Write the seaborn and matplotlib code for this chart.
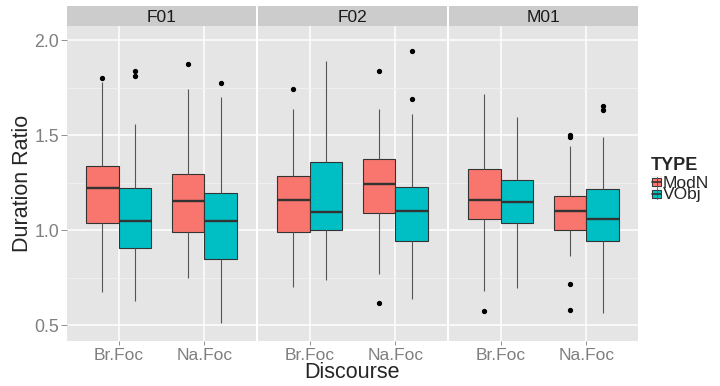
import matplotlib
matplotlib.use("Agg")
import matplotlib.pyplot as plt
import numpy as np
import pandas as pd
import seaborn as sns
from matplotlib.patches import Rectangle
from matplotlib.lines import Line2D

speakers = ["F01", "F02", "M01"]
discourse = ["Br.Foc", "Na.Foc"]
types = ["ModN", "VObj"]
palette = {"ModN": "#F8766D", "VObj": "#00BFC4"}

# box stats, order: speaker > discourse > type
whisker_low = [0.674, 0.628, 0.747, 0.514, 0.700, 0.738, 0.770, 0.640, 0.680, 0.698, 0.866, 0.563]
q1 = [1.037, 0.907, 0.989, 0.851, 0.989, 1.000, 1.093, 0.942, 1.058, 1.036, 1.002, 0.942]
median = [1.221, 1.049, 1.154, 1.047, 1.158, 1.098, 1.242, 1.102, 1.158, 1.151, 1.103, 1.061]
q3 = [1.338, 1.224, 1.295, 1.196, 1.286, 1.361, 1.375, 1.230, 1.324, 1.262, 1.182, 1.215]
whisker_high = [1.780, 1.558, 1.742, 1.703, 1.637, 1.893, 1.637, 1.612, 1.715, 1.595, 1.445, 1.491]
outliers = [[1.800], [1.840, 1.812], [1.875], [1.775],
            [1.744], [], [1.838, 0.617], [1.944, 1.691],
            [0.575], [], [1.503, 1.489, 0.719, 0.582], [1.655, 1.635]]


def box_sample(lo, a, m, b, hi, extra):
    """Points giving the same quartiles / whisker ends as the drawn box."""
    return sorted(extra + [lo, hi] + [a] * 5 + [m] * 5 + [b] * 5)


rows = []
k = 0
for spk in speakers:
    for disc in discourse:
        for t in types:
            for v in box_sample(whisker_low[k], q1[k], median[k], q3[k],
                                whisker_high[k], outliers[k]):
                rows.append({"speaker": spk, "discourse": disc, "type": t, "ratio": v})
            k += 1
df = pd.DataFrame(rows)

sns.set_style("white")
plt.rcParams["font.family"] = ["Liberation Sans", "DejaVu Sans"]

W, H = 720, 386
fig = plt.figure(figsize=(W / 100, H / 100), dpi=100)

panel_left = [67, 258, 449]
panel_w = 189
top, bottom = 26, 340.7
grey_txt = "#7F7F7F"

for i, spk in enumerate(speakers):
    ax = fig.add_axes([panel_left[i] / W, 1 - bottom / H, panel_w / W, (bottom - top) / H])
    sub = df[df["speaker"] == spk]
    sns.boxplot(
        data=sub, x="discourse", y="ratio", hue="type",
        order=discourse, hue_order=types, palette=palette,
        saturation=1, width=0.75, gap=0, linecolor="#333333", linewidth=0.8,
        fliersize=3, showcaps=False, legend=False, ax=ax,
        medianprops=dict(linewidth=1.7, color="#333333"),
        whiskerprops=dict(color="#555555", linewidth=0.8),
        flierprops=dict(marker="o", markerfacecolor="black",
                        markeredgecolor="black", markersize=2.8),
    )
    ax.set_facecolor("#E5E5E5")
    ax.set_xlim(-0.6, 1.6)
    ax.set_ylim(0.419, 2.075)
    ax.set_yticks([0.5, 1.0, 1.5, 2.0])
    ax.set_yticks([0.75, 1.25, 1.75], minor=True)
    ax.grid(which="major", color="white", linewidth=1.1)
    ax.grid(which="minor", axis="y", color="#F2F2F2", linewidth=0.6)
    ax.set_axisbelow(True)
    for s in ax.spines.values():
        s.set_visible(False)
    ax.set_xlabel("")
    ax.set_ylabel("")
    ax.tick_params(axis="x", length=3, width=0.6, color=grey_txt, labelcolor=grey_txt,
                   labelsize=12.5, pad=2, bottom=True)
    ax.tick_params(axis="y", which="minor", left=False)
    if i == 0:
        ax.set_yticklabels(["0.5", "1.0", "1.5", "2.0"])
        ax.tick_params(axis="y", which="major", length=4, width=0.6, color=grey_txt,
                       labelcolor=grey_txt, labelsize=12.8, pad=1.5, left=True)
    else:
        ax.tick_params(axis="y", which="major", left=False, labelleft=False)

    strip = fig.add_axes([panel_left[i] / W, 1 - top / H, panel_w / W, 20 / H])
    strip.set_facecolor("#CCCCCC")
    strip.set_xticks([])
    strip.set_yticks([])
    for s in strip.spines.values():
        s.set_visible(False)
    strip.text(0.5, 0.45, spk, ha="center", va="center", fontsize=12.5,
               color="#1A1A1A", transform=strip.transAxes)

fig.text(23 / W, 1 - 183 / H, "Duration Ratio", rotation=90, ha="center",
         va="center", fontsize=15.5)
fig.text(352 / W, 1 - 372 / H, "Discourse", ha="center", va="center", fontsize=15.5)

# legend: keys drawn by hand, labels as one tight two-line text like ggplot's
fig.text(651 / W, 1 - 165 / H, "TYPE", ha="left", va="center", fontsize=13,
         fontweight="bold")
row_y = [182, 194]
for t, yc in zip(types, row_y):
    fig.add_artist(Rectangle((651 / W, 1 - (yc + 6) / H), 11 / W, 12 / H,
                             transform=fig.transFigure, facecolor="#F2F2F2",
                             edgecolor="none"))
    fig.add_artist(Line2D([656.5 / W, 656.5 / W], [1 - (yc + 5.5) / H, 1 - (yc - 5.5) / H],
                          transform=fig.transFigure, color="#555555", lw=0.7))
    fig.add_artist(Rectangle((652 / W, 1 - (yc + 4) / H), 9 / W, 8 / H,
                             transform=fig.transFigure, facecolor=palette[t],
                             edgecolor="#333333", lw=0.7))
    fig.add_artist(Line2D([652 / W, 661 / W], [1 - yc / H, 1 - yc / H],
                          transform=fig.transFigure, color="#333333", lw=1.2))
fig.text(662.5 / W, 1 - (sum(row_y) / 2 + 1) / H, "\n".join(types), ha="left",
         va="center", fontsize=12.5, linespacing=0.72)

fig.savefig("out.png", dpi=100)
